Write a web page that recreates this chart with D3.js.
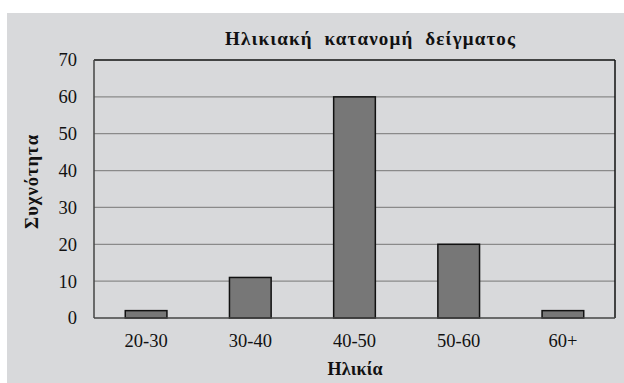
<!DOCTYPE html>
<html>
<head>
<meta charset="utf-8">
<script src="https://cdn.jsdelivr.net/npm/d3@7"></script>
<style>
  html, body { margin: 0; padding: 0; background: #ffffff; }
  svg { display: block; }
</style>
</head>
<body>
<svg id="chart" width="624" height="383"></svg>
<script>
// Age distribution of the sample
const categories = ["20-30", "30-40", "40-50", "50-60", "60+"];
const counts = [2, 11, 60, 20, 2];
const yTicks = [0, 10, 20, 30, 40, 50, 60, 70];
const chartTitle = "Ηλικιακή  κατανομή  δείγματος";
const xTitle = "Ηλικία";
const yTitle = "Συχνότητα";

const W = 624, H = 383;
const plot = { left: 94, top: 60, right: 615, bottom: 318 };
const serif = "Liberation Serif";

const svg = d3.select("#chart");

// grey panel behind everything
svg.append("rect")
  .attr("x", 7).attr("y", 13)
  .attr("width", W - 7).attr("height", H - 13)
  .attr("fill", "#d8d9db");

const x = d3.scaleBand()
  .domain(categories)
  .range([plot.left, plot.right])
  .paddingInner(0.6)
  .paddingOuter(0.3);

const y = d3.scaleLinear()
  .domain([0, 70])
  .range([plot.bottom, plot.top]);

// horizontal gridlines
svg.append("g")
  .selectAll("line")
  .data(yTicks.filter(t => t > 0 && t < 70))
  .join("line")
  .attr("x1", plot.left).attr("x2", plot.right)
  .attr("y1", d => y(d)).attr("y2", d => y(d))
  .attr("stroke", "#8a8a8a")
  .attr("stroke-width", 1.2);

// bars
svg.append("g")
  .selectAll("rect")
  .data(categories.map((c, i) => ({ c, v: counts[i] })))
  .join("rect")
  .attr("x", d => x(d.c))
  .attr("y", d => y(d.v))
  .attr("width", x.bandwidth())
  .attr("height", d => y(0) - y(d.v))
  .attr("fill", "#777777")
  .attr("stroke", "#111")
  .attr("stroke-width", 1.5);

// plot frame
svg.append("line")
  .attr("x1", plot.left).attr("x2", plot.right)
  .attr("y1", plot.top).attr("y2", plot.top)
  .attr("stroke", "#111").attr("stroke-width", 1.5);
svg.append("line")
  .attr("x1", plot.right).attr("x2", plot.right)
  .attr("y1", plot.top).attr("y2", plot.bottom)
  .attr("stroke", "#111").attr("stroke-width", 1.5);
svg.append("line")
  .attr("x1", plot.left).attr("x2", plot.left)
  .attr("y1", plot.top).attr("y2", plot.bottom)
  .attr("stroke", "#444").attr("stroke-width", 1.5);
svg.append("line")
  .attr("x1", plot.left).attr("x2", plot.right)
  .attr("y1", plot.bottom).attr("y2", plot.bottom)
  .attr("stroke", "#444").attr("stroke-width", 1.5);

// y axis labels
const yAxis = d3.axisLeft(y).tickValues(yTicks).tickSize(0).tickPadding(17);
const gy = svg.append("g").attr("transform", `translate(${plot.left},0)`).call(yAxis);
gy.attr("font-family", serif).attr("font-size", 18.5);
gy.select(".domain").remove();
gy.selectAll("text").attr("fill", "#111");

// x axis labels
const xAxis = d3.axisBottom(x).tickSize(0).tickPadding(16);
const gx = svg.append("g").attr("transform", `translate(0,${plot.bottom})`).call(xAxis);
gx.attr("font-family", serif).attr("font-size", 18.5);
gx.select(".domain").remove();
gx.selectAll("text").attr("fill", "#111");

// titles
svg.append("text")
  .attr("x", 370).attr("y", 45)
  .attr("text-anchor", "middle")
  .attr("textLength", 290)
  .attr("font-family", serif)
  .attr("font-size", 19)
  .attr("font-weight", "bold")
  .attr("fill", "#111")
  .style("white-space", "pre")
  .text(chartTitle);

svg.append("text")
  .attr("x", 355).attr("y", 375)
  .attr("text-anchor", "middle")
  .attr("textLength", 55)
  .attr("font-family", serif)
  .attr("font-size", 18)
  .attr("font-weight", "bold")
  .attr("fill", "#111")
  .text(xTitle);

svg.append("text")
  .attr("transform", "translate(38,182) rotate(-90)")
  .attr("text-anchor", "middle")
  .attr("textLength", 94)
  .attr("font-family", serif)
  .attr("font-size", 18.5)
  .attr("font-weight", "bold")
  .attr("fill", "#111")
  .text(yTitle);
</script>
</body>
</html>
